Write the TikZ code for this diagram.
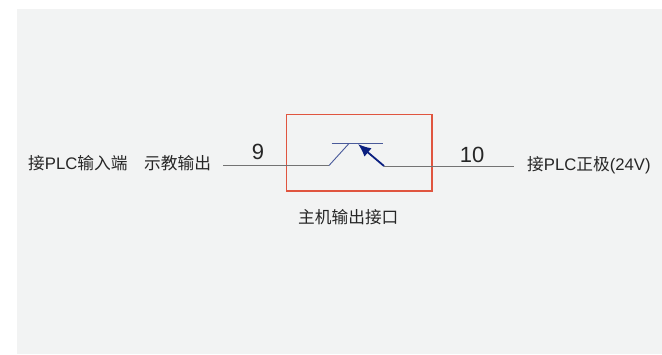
\documentclass[tikz,border=0pt]{standalone}
\usepackage{fontspec}
\setmainfont{Liberation Sans}
\newfontfamily\cjk{Noto Sans CJK SC}
\usetikzlibrary{arrows.meta}
\tikzset{
  lbl/.style={inner sep=0pt,anchor=west,text=black!85,font=\fontsize{16.7}{18}\selectfont},
  num/.style={inner sep=0pt,text=black!85,font=\fontsize{22}{24}\selectfont},
  wire/.style={draw=black!55,line width=0.9pt},
}
\definecolor{panel}{HTML}{F2F3F3}
\definecolor{redbox}{HTML}{E0553F}
\definecolor{navy}{HTML}{0B1F80}
\definecolor{contact}{HTML}{4A5A9A}
\begin{document}
\begin{tikzpicture}[x=1pt,y=-1pt]
\useasboundingbox (0,0) rectangle (662,354);
\fill[white] (0,0) rectangle (662,354);
\fill[panel] (16.5,9) rectangle (662,354);
\draw[redbox,line width=1.7pt] (286.5,114.5) rectangle (432,191);
\coordinate (wl) at (223,165.5);
\coordinate (k1) at (329,165.5);
\coordinate (k2) at (349,143.5);
\coordinate (b1) at (331.5,143.5);
\coordinate (b2) at (383,143.5);
\coordinate (a1) at (384,166);
\coordinate (a2) at (358,144);
\coordinate (wr) at (514,166);
\draw[wire] (wl) -- (k1);
\draw[draw=contact,line width=0.9pt] (k1) -- (k2);
\draw[draw=contact,line width=0.9pt] (b1) -- (b2);
\draw[wire] (a1) -- (wr);
\draw[draw=navy,line width=1.8pt,-{Latex[length=13pt,width=11pt]}] (a1) -- (a2);
\node[lbl] (t1) at (28,163) {\cjk 接\rmfamily PLC\cjk 输入端};
\node[lbl] (t2) at (144,163) {\cjk 示教输出};
\node[num] (n9) at (258,152) {9};
\node[num] (n10) at (472,155) {10};
\node[lbl] (t3) at (527,165) {\cjk 接\rmfamily PLC\cjk 正极\rmfamily (24V)};
\node[lbl] (t4) at (298,217) {\cjk 主机输出接口};
\end{tikzpicture}
\end{document}
